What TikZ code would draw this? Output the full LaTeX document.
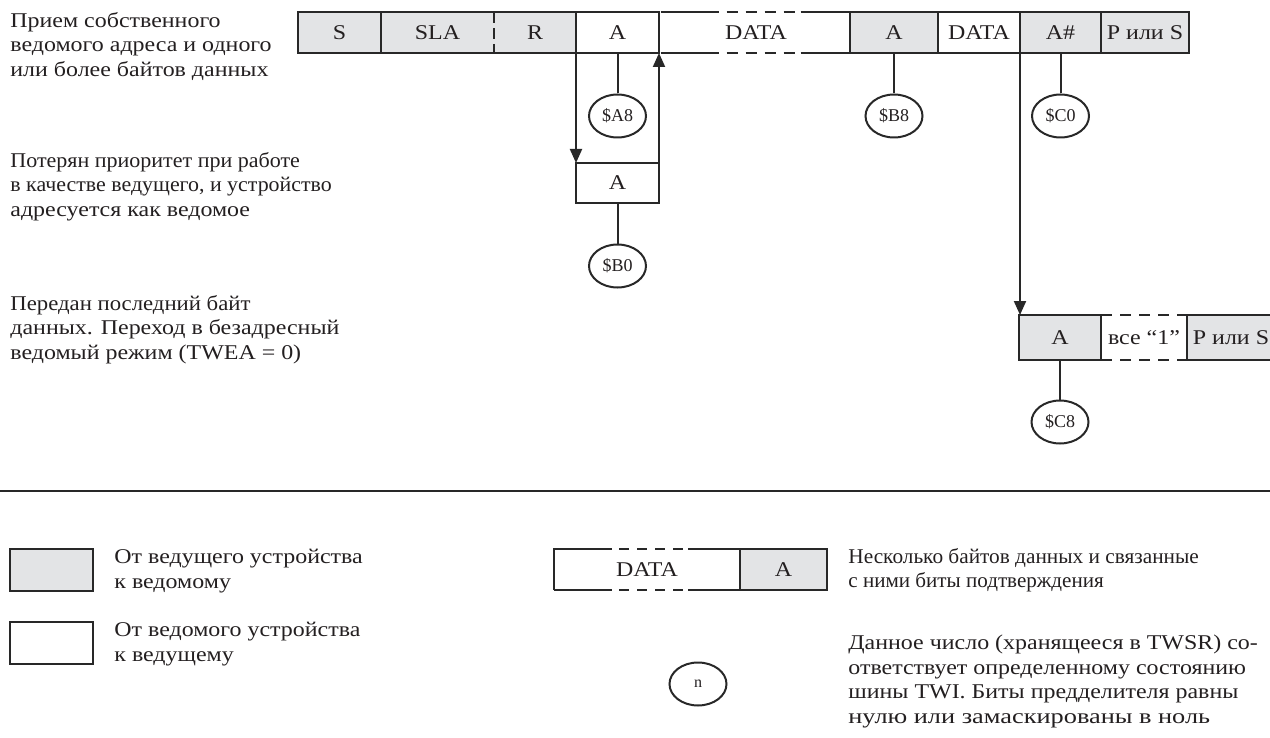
\documentclass[tikz,border=0pt]{standalone}
\usepackage{fontspec}
\usepackage{graphicx}
\setmainfont[FakeStretch=1.14]{Liberation Serif}
\newfontfamily\tagfont{Liberation Serif}
\usetikzlibrary{shapes.geometric,arrows.meta}
\definecolor{cellgray}{RGB}{227,228,230}
\definecolor{ink}{RGB}{40,40,40}
\definecolor{txt}{RGB}{35,31,32}
\newcommand{\sx}[2]{\scalebox{#1}[1]{#2}}
\begin{document}
\begin{tikzpicture}[x=0.5pt,y=-0.5pt,
  line/.style={draw=ink,line width=1pt},
  cell/.style={rectangle,inner sep=0pt,outer sep=0pt,minimum height=20.5pt,text=txt,
    text height=7pt,text depth=0pt,font=\fontsize{10.5}{12}\selectfont},
  gcell/.style={cell,fill=cellgray},
  wcell/.style={cell},
  tag/.style={ellipse,draw=ink,line width=1pt,inner sep=0pt,minimum width=28.5pt,
    minimum height=21.5pt,font=\tagfont\fontsize{9}{10}\selectfont,text=txt},
  note/.style={anchor=north west,inner sep=0pt,align=left,text=txt,
    font=\fontsize{10.5}{12.25}\selectfont},
  arr/.style={line,-{Triangle[length=7pt,width=6pt]}},
  dsh/.style={line,dash pattern=on 5.5pt off 4pt}
]
\useasboundingbox (0,0) rectangle (1270,738);

% ---------- top row ----------
\node[gcell,minimum width=41.5pt] (s)   at (339.5,32.5) {S};
\node[gcell,minimum width=56.5pt] (sla) at (437.5,32.5) {SLA};
\node[gcell,minimum width=41pt]   (r)   at (535,32.5)   {R};
\node[wcell,minimum width=41.5pt] (a1)  at (617.5,32.5) {A};
\node[wcell,minimum width=95.5pt] (d1)  at (756,32.5) {DATA};
\node[gcell,minimum width=44pt]   (a2)  at (894,32.5)   {A};
\node[wcell,minimum width=41pt]   (d2)  at (979,32.5)   {DATA};
\node[gcell,minimum width=40.5pt] (ah)  at (1060.5,32.5) {A\#};
\node[gcell,minimum width=44pt]   (p1)  at (1145,32.5)  {P или S};

\draw[line] (s.north west) rectangle (a1.south east);
\draw[line] (s.north east) -- (s.south east);
\draw[line] (r.north east) -- (r.south east);
\draw[line,dash pattern=on 5.5pt off 2.5pt] (sla.north east) -- (sla.south east);
\draw[line] (d1.north west) -- ++(58,0) ++(82,0) -- (d1.north east);
\draw[line] (d1.south west) -- ++(58,0) ++(82,0) -- (d1.south east);
\draw[dsh] (d1.north west) ++(66,0) -- ++(68,0);
\draw[dsh] (d1.south west) ++(66,0) -- ++(68,0);
\draw[line] (a2.north west) rectangle (p1.south east);
\draw[line] (a2.north east) -- (a2.south east);
\draw[line] (d2.north east) -- (d2.south east);
\draw[line] (ah.north east) -- (ah.south east);

% ---------- middle A ----------
\node[wcell,draw=ink,line width=1pt,minimum width=41.5pt,minimum height=20pt] (am) at (617.5,183) {A};

% ---------- lower row ----------
\node[gcell,minimum width=41pt,minimum height=22.5pt] (la) at (1060,337.5) {A};
\node[wcell,minimum width=43pt,minimum height=22.5pt] (lv) at (1144,337.5) {все “1”};
\node[gcell,minimum width=44pt,minimum height=22.5pt] (lp) at (1231,337.5) {P или S};
\draw[line] (la.north west) rectangle (la.south east);
\draw[line] (lp.north west) rectangle (lp.south east);
\draw[dsh] (lv.north west) -- (lv.north east);
\draw[dsh] (lv.south west) -- (lv.south east);

% ---------- status tags ----------
\node[tag] (tA8) at (617.5,116) {\$A8};
\node[tag] (tB8) at (894,116)   {\$B8};
\node[tag] (tC0) at (1060.5,116) {\$C0};
\node[tag] (tB0) at (617.5,266) {\$B0};
\node[tag] (tC8) at (1060,422)  {\$C8};

\draw[line] (a1.south) -- (tA8.north);
\draw[line] (a2.south) -- (tB8.north);
\draw[line] (ah.south) -- (tC0.north);
\draw[line] (am.south) -- (tB0.north);
\draw[line] (la.south) -- (tC8.north);

% ---------- arrows ----------
\draw[arr] (a1.south west) -- (am.north west);
\draw[arr] (am.north east) -- (a1.south east);
\draw[arr] (d2.south east) -- (d2.south east |- la.north);

% ---------- left notes ----------
\node[note] (n1) at (10,12)  {Прием собственного\\ведомого адреса и одного\\или более байтов данных};
\node[note] (n2) at (10,152) {\sx{0.92}{Потерян приоритет при работе}\\\sx{0.915}{в качестве ведущего, и устройство}\\адресуется как ведомое};
\node[note] (n3) at (10,295) {\sx{0.95}{Передан последний байт}\\данных. Переход в безадресный\\ведомый режим (TWEA = 0)};

% ---------- separator ----------
\coordinate (sepL) at (0,491);
\coordinate (sepR) at (1270,491);
\draw[line] (sepL) -- (sepR);

% ---------- legend ----------
\node[gcell,draw=ink,line width=1pt,minimum width=41.5pt,minimum height=21pt] (lg) at (51.5,570) {};
\node[wcell,draw=ink,line width=1pt,minimum width=41.5pt,minimum height=21pt] (lw) at (51.5,643) {};
\node[note] (lgt) at (114,549) {От ведущего устройства\\к ведомому};
\node[note] (lwt) at (114,622) {От ведомого устройства\\к ведущему};

\node[wcell,minimum width=93pt] (ld) at (647,569.5) {DATA};
\node[gcell,minimum width=43.5pt] (lA) at (783.5,569.5) {A};
\draw[line] (lA.north west) rectangle (lA.south east);
\draw[line] (ld.south west) -- (ld.north west) -- ++(58,0);
\draw[line] (ld.south west) -- ++(58,0);
\draw[line] (ld.north east) ++(-52,0) -- (ld.north east);
\draw[line] (ld.south east) ++(-52,0) -- (ld.south east);
\draw[dsh,dash pattern=on 5pt off 4pt] (ld.north west) ++(65,0) -- ++(64,0);
\draw[dsh,dash pattern=on 5pt off 4pt] (ld.south west) ++(65,0) -- ++(64,0);
\node[note] (ldt) at (848,548) {\sx{0.89}{Несколько байтов данных и связанные}\\\sx{0.88}{с ними биты подтверждения}};

\node[tag,font=\tagfont\fontsize{8}{9}\selectfont] (tn) at (698,684) {n};
\node[note] (tnt) at (848,635) {Данное число (хранящееся в TWSR) со-\\ответствует определенному состоянию\\шины TWI. Биты предделителя равны\\\sx{1.1}{нулю или замаскированы в ноль}};
\end{tikzpicture}
\end{document}
